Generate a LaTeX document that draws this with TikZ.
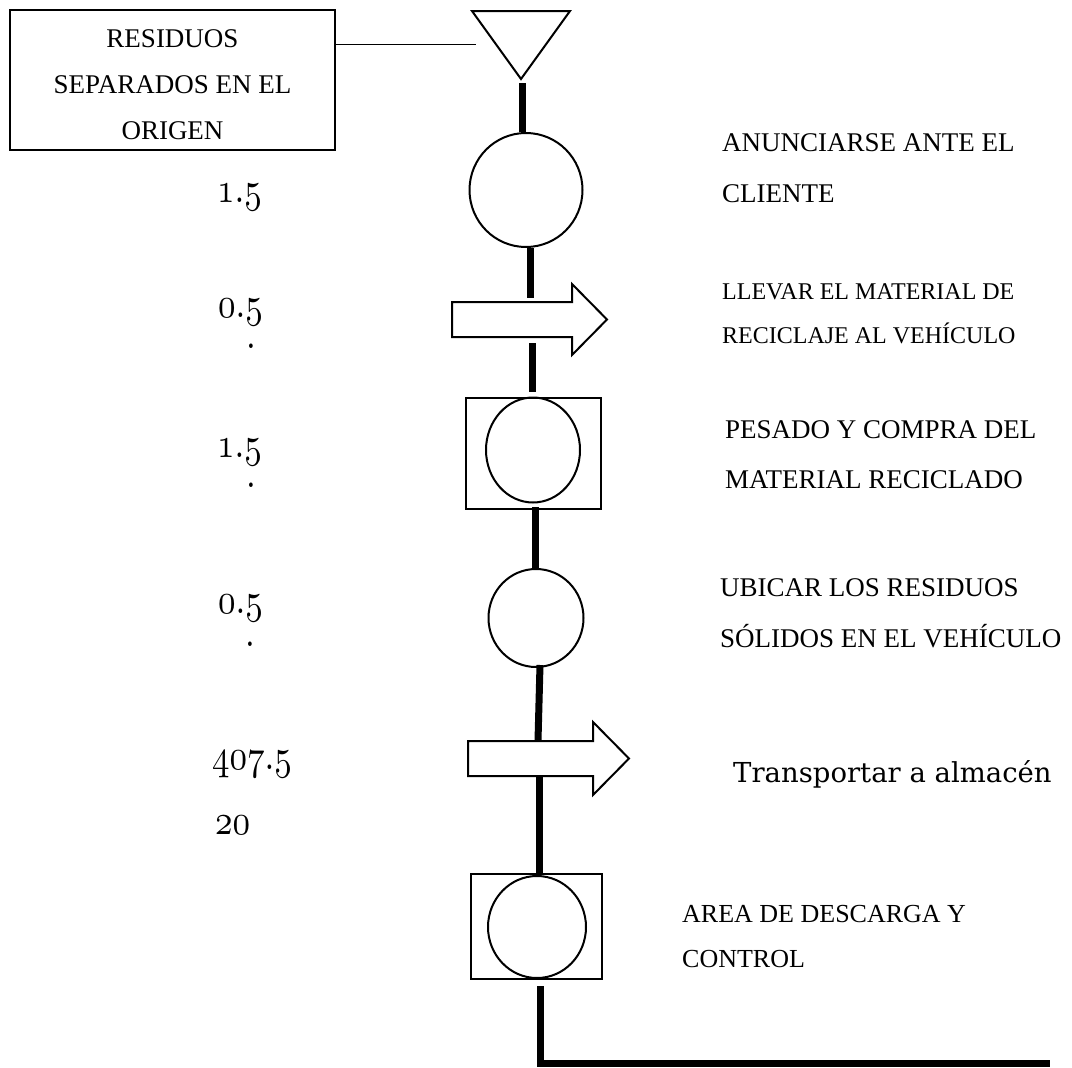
\documentclass[tikz,border=0pt]{standalone}
\usepackage{fontspec}
\usepackage{graphicx}
\setmainfont{Liberation Serif}
\newfontfamily\dvserif{DejaVu Serif}
\usetikzlibrary{shapes.geometric,calc}
\DeclareFontFamily{OML}{mynumfam}{\skewchar\font127 }
\DeclareFontShape{OML}{mynumfam}{m}{it}{<->cmmi10}{}
\newcommand\mynums[1]{\scalebox{1}[1.22]{\usefont{OML}{mynumfam}{m}{it}#1}}
\newcommand\numdot{\char58\relax}
\begin{document}
\begin{tikzpicture}[x=1pt,y=-1pt,
  outline/.style={draw=black, line width=2pt, line join=miter},
  hidden/.style={inner sep=0pt, outer sep=0pt},
  flowline/.style={line width=7pt, black, line join=miter},
  lbl/.style={anchor=base west, inner sep=0pt, font=\fontsize{27}{27}\selectfont},
  lblsm/.style={anchor=base west, inner sep=0pt, font=\fontsize{24}{24}\selectfont},
  lblmd/.style={anchor=base west, inner sep=0pt, font=\fontsize{26}{26}\selectfont},
  boxtxt/.style={anchor=base, inner sep=0pt, font=\fontsize{27}{27}\selectfont},
  numtxt/.style={anchor=base west, inner sep=0pt, font=\fontsize{35}{35}\selectfont},
  dottxt/.style={anchor=center, inner sep=0pt, font=\fontsize{35}{35}\selectfont},
  roundnode/.style={ellipse, outline, inner sep=0pt},
  squarenode/.style={rectangle, outline, inner sep=0pt}
]
\useasboundingbox (0,0) rectangle (1072,1068);

% source box
\node[squarenode, minimum width=325pt, minimum height=140pt] (R) at (172.5,80) {};
\node[boxtxt] (r1) at (172.5,47) {RESIDUOS};
\node[boxtxt] (r2) at (172.5,93) {SEPARADOS EN EL};
\node[boxtxt] (r3) at (172.5,139) {ORIGEN};

% triangle
\node[hidden, minimum width=98pt, minimum height=68pt] (tri) at (521,45) {};
\draw[outline] (tri.north west) -- (tri.north east) -- (tri.south) -- cycle;
\coordinate (tl) at (476,44);
\draw[line width=1pt] (R.east |- tl) -- (tl);

% shapes
\node[roundnode, minimum width=113pt, minimum height=114pt] (c1) at (526,190) {};

\node[hidden, minimum width=120pt, minimum height=35pt] (a1) at (512,319.5) {};
\draw[outline] (a1.north west) -- (a1.north east) -- ++(0,-18) -- ($(a1.east)+(35,0)$)
  -- ($(a1.south east)+(0,18)$) -- (a1.south east) -- (a1.south west) -- cycle;

\node[squarenode, minimum width=135pt, minimum height=111pt] (b1) at (533.5,453.5) {};
\node[roundnode, minimum width=94pt, minimum height=105pt] (e1) at (533,450) {};

\node[roundnode, minimum width=95pt, minimum height=98pt] (c3) at (536,618) {};

\node[hidden, minimum width=125pt, minimum height=35pt] (a2) at (530.5,758.5) {};
\draw[outline] (a2.north west) -- (a2.north east) -- ++(0,-19) -- ($(a2.east)+(36,0)$)
  -- ($(a2.south east)+(0,19)$) -- (a2.south east) -- (a2.south west) -- cycle;

\node[squarenode, minimum width=131pt, minimum height=105pt] (b2) at (536.5,926.5) {};
\node[roundnode, minimum width=98pt, minimum height=102pt] (e2) at (537,927) {};

% flow lines
\draw[flowline] ([xshift=1pt,yshift=-4pt]tri.south) -- ([xshift=-4pt]c1.north);
\draw[flowline] ([xshift=4pt]c1.south) -- ([xshift=18pt,yshift=4pt]a1.north);
\draw[flowline] ([xshift=20pt,yshift=-6pt]a1.south) -- ([xshift=-1.5pt,yshift=5pt]b1.north);
\draw[flowline] ([xshift=1.5pt,yshift=3pt]b1.south) -- ([xshift=-1pt]c3.north);
\draw[flowline] ([xshift=4pt,yshift=3pt]c3.south) -- ([xshift=7.5pt]a2.north);
\draw[flowline] ([xshift=8.5pt]a2.south) -- ([xshift=2.5pt]b2.north);
\coordinate (endpt) at (1050,1063);
\draw[flowline] ([xshift=3.5pt,yshift=-6pt]b2.south) |- (endpt);

% times
\node[numtxt] (n1) at (217,202) {\mynums{1\numdot5}};
\node[numtxt] (n2) at (218,317) {\mynums{0\numdot5}};
\node[dottxt] (d2) at (251,346) {\mynums{\numdot}};
\node[numtxt] (n3) at (217,457) {\mynums{1\numdot5}};
\node[dottxt] (d3) at (251,485) {\mynums{\numdot}};
\node[numtxt] (n4) at (218,613) {\mynums{0\numdot5}};
\node[dottxt] (d4) at (250,644) {\mynums{\numdot}};
\node[numtxt] (n5) at (212,769) {\mynums{407\numdot5}};
\node[numtxt] (n6) at (215,834) {\mynums{20}};

% descriptions
\node[lbl] (t1a) at (722,151) {ANUNCIARSE ANTE EL};
\node[lbl] (t1b) at (722,202) {CLIENTE};
\node[lblsm] (t2a) at (722,299) {LLEVAR EL MATERIAL DE};
\node[lblsm] (t2b) at (722,343) {RECICLAJE AL VEHÍCULO};
\node[lbl] (t3a) at (725,438) {PESADO Y COMPRA DEL};
\node[lbl] (t3b) at (725,488) {MATERIAL RECICLADO};
\node[lbl] (t4a) at (720,596) {UBICAR LOS RESIDUOS};
\node[lbl] (t4b) at (720,647) {SÓLIDOS EN EL VEHÍCULO};
\node[anchor=base west, inner sep=0pt, font=\dvserif\fontsize{27.5}{27.5}\selectfont] (t5) at (733,782) {Transportar a almacén};
\node[lblmd] (t6a) at (682,922) {AREA DE DESCARGA Y};
\node[lblmd] (t6b) at (682,967) {CONTROL};
\end{tikzpicture}
\end{document}
